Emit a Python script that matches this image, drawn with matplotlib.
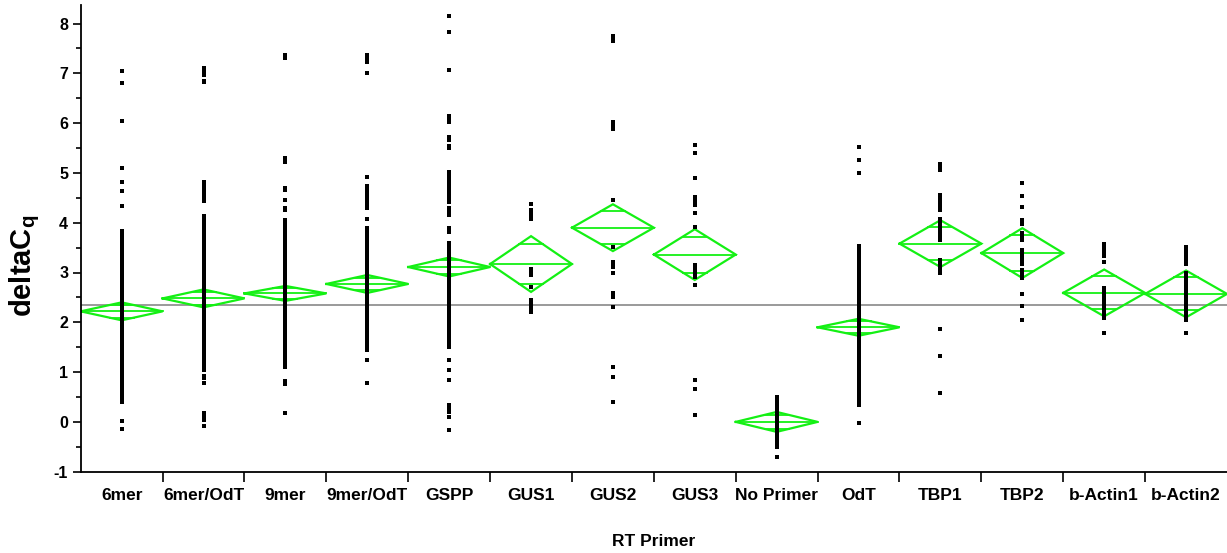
import matplotlib
matplotlib.use("Agg")
import matplotlib.pyplot as plt
import numpy as np

# RT primer groups
categories = ["6mer", "6mer/OdT", "9mer", "9mer/OdT", "GSPP", "GUS1", "GUS2",
              "GUS3", "No Primer", "OdT", "TBP1", "TBP2", "b-Actin1", "b-Actin2"]

# Group means and 95% confidence half-widths (means diamonds)
group_means = [2.22, 2.48, 2.58, 2.77, 3.11, 3.17, 3.90,
               3.36, 0.00, 1.90, 3.58, 3.39, 2.59, 2.57]
ci_half = [0.18, 0.18, 0.15, 0.18, 0.19, 0.56, 0.47,
           0.51, 0.20, 0.17, 0.47, 0.50, 0.47, 0.47]
grand_mean = 2.35

# Individual deltaCq observations per primer
obs_6mer = [7.04, 6.81, 6.04, 5.10, 4.82, 4.64, 4.34,
            3.84, 3.80, 3.76, 3.71, 3.67, 3.63, 3.59, 3.55, 3.50, 3.45, 3.40,
            3.33, 3.27, 3.21, 3.15, 3.09, 3.03, 2.97, 2.92, 2.88, 2.84, 2.80,
            2.76, 2.71, 2.67, 2.63, 2.58, 2.54, 2.50, 2.46, 2.41, 2.37, 2.33,
            2.29, 2.24, 2.20, 2.16, 2.12, 2.07, 2.03, 1.99, 1.95, 1.90, 1.86,
            1.82, 1.78, 1.73, 1.69, 1.65, 1.61, 1.56, 1.52, 1.48, 1.44, 1.39,
            1.35, 1.31, 1.25, 1.19, 1.13, 1.06, 0.99, 0.93, 0.86, 0.81, 0.75,
            0.69, 0.63, 0.57, 0.51, 0.45, 0.40, 0.02, -0.15]
obs_6mer_odt = [7.10, 7.06, 7.02, 6.97, 6.85, 6.82,
                4.82, 4.78, 4.73, 4.68, 4.63, 4.58, 4.53, 4.48, 4.44,
                4.14, 4.10, 4.05, 4.00, 3.93, 3.87, 3.81, 3.75, 3.69, 3.63,
                3.57, 3.52, 3.48, 3.44, 3.40, 3.36, 3.31, 3.27, 3.23, 3.19,
                3.15, 3.10, 3.06, 3.02, 2.98, 2.94, 2.89, 2.85, 2.81, 2.77,
                2.73, 2.68, 2.64, 2.60, 2.56, 2.52, 2.47, 2.43, 2.39, 2.35,
                2.31, 2.26, 2.22, 2.18, 2.14, 2.10, 2.05, 2.01, 1.97, 1.93,
                1.89, 1.84, 1.80, 1.76, 1.72, 1.68, 1.63, 1.59, 1.55, 1.51,
                1.47, 1.42, 1.38, 1.34, 1.30, 1.26, 1.21, 1.17, 1.13, 1.09,
                1.05, 0.92, 0.88, 0.78, 0.17, 0.10, 0.04, -0.09]
obs_9mer = [7.36, 7.31, 5.30, 5.22, 4.70, 4.66, 4.46, 4.30, 4.25,
            4.05, 4.00, 3.95, 3.90, 3.85, 3.81, 3.77, 3.72, 3.68, 3.64,
            3.60, 3.55, 3.51, 3.47, 3.43, 3.38, 3.34, 3.30, 3.26, 3.21,
            3.17, 3.13, 3.09, 3.04, 3.00, 2.96, 2.92, 2.87, 2.83, 2.79,
            2.75, 2.70, 2.66, 2.62, 2.58, 2.53, 2.49, 2.45, 2.41, 2.36,
            2.32, 2.28, 2.24, 2.19, 2.15, 2.11, 2.07, 2.02, 1.98, 1.94,
            1.90, 1.85, 1.81, 1.77, 1.73, 1.68, 1.64, 1.60, 1.56, 1.51,
            1.47, 1.43, 1.39, 1.34, 1.30, 1.26, 1.22, 1.17, 1.13, 1.10,
            0.82, 0.77, 0.17]
obs_9mer_odt = [7.36, 7.30, 7.23, 7.01, 4.92, 4.73, 4.68, 4.63, 4.57, 4.52,
                4.46, 4.40, 4.34, 4.29, 4.08, 3.90, 3.86, 3.81, 3.77, 3.72,
                3.68, 3.63, 3.59, 3.55, 3.50, 3.46, 3.41, 3.37, 3.32, 3.28,
                3.23, 3.19, 3.14, 3.10, 3.06, 3.01, 2.97, 2.92, 2.88, 2.83,
                2.79, 2.74, 2.70, 2.66, 2.61, 2.57, 2.52, 2.48, 2.43, 2.39,
                2.34, 2.30, 2.26, 2.21, 2.17, 2.12, 2.08, 2.03, 1.99, 1.94,
                1.90, 1.85, 1.81, 1.77, 1.72, 1.68, 1.63, 1.59, 1.54, 1.50,
                1.45, 1.24, 0.78]
obs_gspp = [8.15, 7.82, 7.06, 6.15, 6.10, 6.03, 5.73, 5.66, 5.55, 5.49,
            5.01, 4.96, 4.92, 4.88, 4.82, 4.77, 4.70, 4.62, 4.55, 4.48,
            4.42, 4.30, 4.22, 4.16, 3.90, 3.82, 3.60, 3.55, 3.48, 3.44,
            3.39, 3.35, 3.30, 3.26, 3.21, 3.17, 3.12, 3.08, 3.03, 2.99,
            2.94, 2.90, 2.85, 2.81, 2.76, 2.72, 2.67, 2.63, 2.58, 2.54,
            2.49, 2.45, 2.40, 2.36, 2.31, 2.27, 2.22, 2.18, 2.13, 2.09,
            2.04, 2.00, 1.95, 1.91, 1.86, 1.82, 1.77, 1.73, 1.68, 1.64,
            1.59, 1.55, 1.50, 1.24, 1.05, 0.84, 0.34, 0.28, 0.20, 0.10,
            -0.17]
obs_gus1 = [4.38, 4.25, 4.20, 4.14, 4.08, 3.08, 3.02, 2.95, 2.71,
            2.44, 2.38, 2.32, 2.26, 2.21]
obs_gus2 = [7.75, 7.70, 7.64, 6.03, 5.96, 5.88, 4.45, 3.51, 3.21, 3.16,
            3.11, 3.00, 2.58, 2.51, 2.31, 1.10, 0.90, 0.40]
obs_gus3 = [5.56, 5.39, 4.90, 4.52, 4.46, 4.40, 4.35, 4.20, 3.92, 3.15,
            3.10, 3.04, 2.97, 2.91, 2.74, 0.84, 0.67, 0.13]
obs_no_primer = [0.50, 0.44, 0.38, 0.30, 0.24, 0.20, 0.16, 0.12, 0.08, 0.04,
                 0.00, -0.04, -0.08, -0.12, -0.16, -0.20, -0.24, -0.31,
                 -0.36, -0.42, -0.47, -0.51, -0.71]
obs_odt = [5.52, 5.26, 5.00, 3.53, 3.48, 3.44, 3.40, 3.35, 3.31, 3.27,
           3.22, 3.18, 3.14, 3.09, 3.05, 3.01, 2.96, 2.92, 2.88, 2.83,
           2.79, 2.75, 2.70, 2.66, 2.62, 2.57, 2.53, 2.49, 2.44, 2.40,
           2.36, 2.31, 2.27, 2.23, 2.18, 2.14, 2.10, 2.05, 2.01, 1.97,
           1.92, 1.88, 1.84, 1.79, 1.75, 1.71, 1.66, 1.62, 1.58, 1.53,
           1.49, 1.45, 1.40, 1.36, 1.32, 1.27, 1.23, 1.19, 1.14, 1.10,
           1.06, 1.01, 0.97, 0.93, 0.88, 0.84, 0.80, 0.75, 0.71, 0.67,
           0.62, 0.58, 0.54, 0.49, 0.45, 0.41, 0.37, 0.33, -0.02]
obs_tbp1 = [5.17, 5.10, 5.05, 4.55, 4.48, 4.40, 4.32, 4.25, 4.08, 4.00,
            3.92, 3.85, 3.78, 3.72, 3.65, 3.25, 3.18, 3.10, 3.04, 2.98,
            1.86, 1.32, 0.58]
obs_tbp2 = [4.79, 4.53, 4.32, 4.05, 3.98, 3.80, 3.73, 3.66, 3.45, 3.38,
            3.31, 3.25, 3.18, 3.05, 2.98, 2.93, 2.88, 2.56, 2.33, 2.04]
obs_bactin1 = [3.58, 3.52, 3.46, 3.40, 3.33, 3.21, 2.68, 2.62, 2.55, 2.48,
               2.40, 2.33, 2.26, 2.20, 2.14, 2.08, 1.79]
obs_bactin2 = [3.51, 3.45, 3.38, 3.30, 3.24, 3.18, 2.98, 2.92, 2.85, 2.78,
               2.72, 2.65, 2.58, 2.52, 2.45, 2.38, 2.32, 2.25, 2.18, 2.11,
               2.04, 1.79]

observations = [obs_6mer, obs_6mer_odt, obs_9mer, obs_9mer_odt, obs_gspp,
                obs_gus1, obs_gus2, obs_gus3, obs_no_primer, obs_odt,
                obs_tbp1, obs_tbp2, obs_bactin1, obs_bactin2]

y_ticks = [-1, 0, 1, 2, 3, 4, 5, 6, 7, 8]

plt.rcParams["font.family"] = ["Liberation Sans", "DejaVu Sans"]
plt.rcParams["font.weight"] = "bold"
plt.rcParams["mathtext.fontset"] = "custom"
plt.rcParams["mathtext.rm"] = "Liberation Sans:bold"
plt.rcParams["mathtext.bf"] = "Liberation Sans:bold"

fig = plt.figure(figsize=(12.27, 5.53), dpi=100)
ax = fig.add_axes([80.7 / 1227, 81.3 / 553, 1 - 80.7 / 1227, (471.7 - 5) / 553])

diamond_green = "#14f014"
n = len(categories)
xpos = np.arange(n)

# Grand mean reference line
ax.axhline(grand_mean, color="#9a9a9a", lw=1.4, zorder=1)

# Means diamonds with overlap marks
for i, (m, h) in enumerate(zip(group_means, ci_half)):
    half_w = 0.5
    ax.plot([i - half_w, i, i + half_w, i, i - half_w],
            [m, m + h, m, m - h, m], color=diamond_green, lw=1.6, zorder=2,
            solid_joinstyle="miter")
    ax.plot([i - half_w, i + half_w], [m, m], color=diamond_green, lw=1.3, zorder=2)
    ov = h / np.sqrt(2)
    ow = half_w * (1 - 1 / np.sqrt(2))
    for s in (1, -1):
        ax.plot([i - ow, i + ow], [m + s * ov, m + s * ov],
                color=diamond_green, lw=1.3, zorder=2)

# Observations
for i, vals in enumerate(observations):
    ax.plot(np.full(len(vals), i), vals, linestyle="none", marker="s",
            markersize=2.3, markeredgewidth=0, color="black", zorder=3)

ax.set_xlim(-0.5, n - 0.5)
ax.set_ylim(-1, -1 + (471.7 - 5) / 49.8)

ax.spines["top"].set_visible(False)
ax.spines["right"].set_visible(False)
ax.spines["left"].set_linewidth(1.3)
ax.spines["bottom"].set_linewidth(1.3)

ax.set_yticks(y_ticks)
ax.set_yticklabels([str(t) for t in y_ticks], fontsize=11.5, fontweight="bold")
ax.set_yticks(np.arange(-0.5, 8.4, 1.0), minor=True)
ax.tick_params(axis="y", which="major", length=6, width=1.2, direction="out", pad=3)
ax.tick_params(axis="y", which="minor", length=3.5, width=1.2, direction="out")

# Tick marks between groups, labels centred under each group
ax.set_xticks(np.arange(0.5, n - 0.5, 1.0))
ax.set_xticklabels([])
ax.set_xticks(xpos, minor=True)
ax.set_xticklabels(categories, minor=True, fontsize=12.5, fontweight="bold")
ax.tick_params(axis="x", which="major", length=7, width=1.2, direction="out")
ax.tick_params(axis="x", which="minor", length=0, pad=12)

fig.text(654 / 1227, 1 - 541 / 553, "RT Primer", ha="center", va="center",
         fontsize=12.5, fontweight="bold")
fig.text(25 / 1227, 1 - 266 / 553, r"deltaC$_{\mathbf{q}}$", ha="center",
         va="center", rotation=90, fontsize=21, fontweight="bold")

fig.savefig("out.png", dpi=100)
